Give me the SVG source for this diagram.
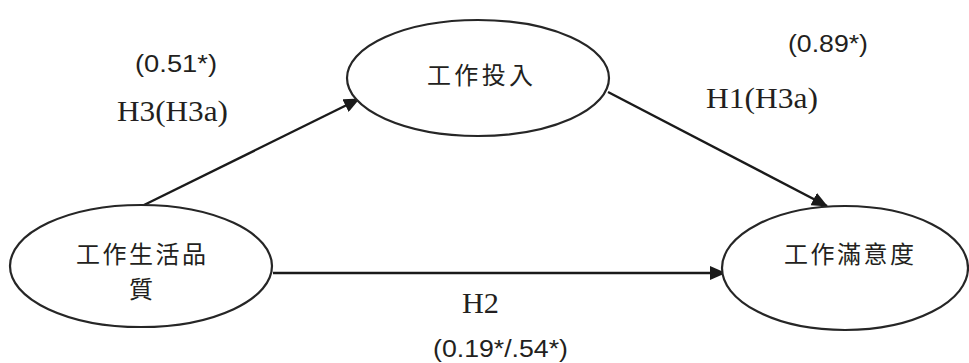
<svg xmlns="http://www.w3.org/2000/svg" width="969" height="363" viewBox="0 0 969 363">
  <style>
    .node ellipse { fill: #ffffff; stroke: #262626; stroke-width: 2.2; }
    .cjk { font-family: "Noto Sans CJK TC", "Noto Sans CJK JP", "Noto Sans CJK SC", sans-serif; font-size: 24px; fill: #231f20; }
    .num { font-family: "Liberation Sans", Arial, sans-serif; font-size: 23px; fill: #231f20; }
    .hyp { font-family: "Liberation Serif", "Times New Roman", serif; font-size: 30px; fill: #231f20; }
    .conn line { stroke: #1a1a1a; stroke-width: 2.4; fill: none; }
  </style>
  <defs>
    <marker id="arrow" viewBox="0 0 16 14" refX="15" refY="7" markerWidth="16" markerHeight="14" markerUnits="userSpaceOnUse" orient="auto">
      <path d="M0,0 L16,7 L0,14 Z" fill="#1a1a1a"/>
    </marker>
  </defs>
  <rect width="969" height="363" fill="#ffffff"/>

  <g id="connectors" class="conn">
    <line x1="142" y1="206" x2="359" y2="99" marker-end="url(#arrow)"/>
    <line x1="608" y1="92" x2="827" y2="206" marker-end="url(#arrow)"/>
    <line x1="273" y1="273" x2="725" y2="273" marker-end="url(#arrow)"/>
  </g>

  <g id="node-qwl" class="node">
    <ellipse cx="141" cy="266" rx="131" ry="61"/>
    <text class="cjk" x="76" y="263" textLength="130" lengthAdjust="spacing">工作生活品</text>
    <text class="cjk" x="141" y="298" text-anchor="middle">質</text>
  </g>

  <g id="node-involvement" class="node">
    <ellipse cx="478" cy="78" rx="131" ry="58"/>
    <text class="cjk" x="427" y="84" textLength="106" lengthAdjust="spacing">工作投入</text>
  </g>

  <g id="node-satisfaction" class="node">
    <ellipse cx="845" cy="268" rx="123" ry="62"/>
    <text class="cjk" x="784" y="263" textLength="130" lengthAdjust="spacing">工作滿意度</text>
  </g>

  <g id="labels">
    <text class="num" x="135" y="72" textLength="82" lengthAdjust="spacingAndGlyphs">(0.51*)</text>
    <text class="hyp" x="117" y="121" textLength="111" lengthAdjust="spacingAndGlyphs">H3(H3a)</text>
    <text class="num" x="788" y="52" textLength="80" lengthAdjust="spacingAndGlyphs">(0.89*)</text>
    <text class="hyp" x="706" y="108" textLength="112" lengthAdjust="spacingAndGlyphs">H1(H3a)</text>
    <text class="hyp" x="462" y="313" textLength="37" lengthAdjust="spacingAndGlyphs">H2</text>
    <text class="num" x="433" y="357" textLength="135" lengthAdjust="spacingAndGlyphs">(0.19*/.54*)</text>
  </g>
</svg>
